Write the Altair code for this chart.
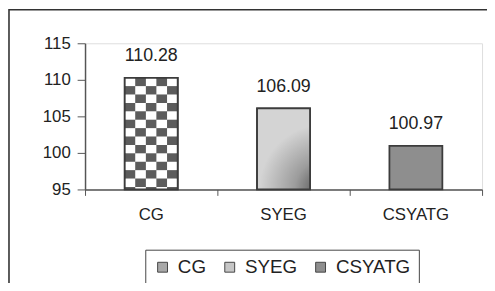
import altair as alt
import pandas as pd

categories = ["CG", "SYEG", "CSYATG"]
values = [110.28, 106.09, 100.97]
legend_colors = ["#a8a8a8", "#c6c6c6", "#8e8e8e"]
y_min, y_max = 95, 115
y_ticks = [95, 100, 105, 110, 115]

# bar table
bars = pd.DataFrame({
    "cat": categories,
    "val": values,
    "x": [i + 0.3 for i in range(len(categories))],
    "x2": [i + 0.7 for i in range(len(categories))],
    "xc": [i + 0.5 for i in range(len(categories))],
    "base": [y_min] * len(categories),
})

# checkerboard cells for the CG bar (derived from its bar extent)
n_cols, row_h = 5, 1.15
cg = bars.iloc[0]
cells = []
r = 0
top = cg["val"]
while top > y_min:
    bot = max(y_min, top - row_h)
    for c in range(n_cols):
        w = (cg["x2"] - cg["x"]) / n_cols
        cells.append({"x": cg["x"] + c * w, "x2": cg["x"] + (c + 1) * w,
                      "y": bot, "y2": top,
                      "col": "#5c5c5c" if (r + c) % 2 else "#ffffff"})
    top = bot
    r += 1
cells = pd.DataFrame(cells)

xscale = alt.Scale(domain=[0, 3], nice=False, zero=False)
yscale = alt.Scale(domain=[y_min, y_max], nice=False, zero=False)

xaxis = alt.Axis(values=[0, 1, 2, 3], labels=False, title=None, grid=False,
                 tickSize=6, domainColor="#555", tickColor="#555", domainWidth=1.5)
yaxis = alt.Axis(values=y_ticks, title=None, grid=False, labelOverlap=False,
                 tickSize=8, labelPadding=7, labelFontSize=17, labelColor="#222",
                 domainColor="#555", tickColor="#555", domainWidth=1.5)


def X(f):
    return alt.X(f, scale=xscale, axis=xaxis, title=None)


def Y(f):
    return alt.Y(f, scale=yscale, axis=yaxis, title=None)


base = alt.Chart(bars)

bar_layer = base.mark_rect(stroke="#3c3c3c", strokeWidth=1.8).encode(
    x=X("x:Q"), x2="x2:Q", y=Y("base:Q"), y2="val:Q",
    color=alt.Color("cat:N", sort=categories,
                    scale=alt.Scale(domain=categories, range=legend_colors),
                    legend=alt.Legend(title=None, orient="none", direction="horizontal",
                                      legendX=61, legendY=209,
                                      strokeColor="#444", padding=8,
                                      symbolType="square", symbolSize=100,
                                      symbolStrokeColor="#444", symbolStrokeWidth=1,
                                      symbolOpacity=1,
                                      labelFontSize=19, labelColor="#222",
                                      labelOffset=6, columnPadding=14)),
)

grad = {
    "gradient": "radial",
    "x1": 1, "y1": 1, "r1": 0,
    "x2": 1, "y2": 1, "r2": 0.8,
    "stops": [
        {"offset": 0, "color": "#4a4a4a"},
        {"offset": 0.45, "color": "#9c9c9c"},
        {"offset": 1, "color": "#d4d4d4"},
    ],
}
syeg_layer = base.transform_filter(alt.datum.cat == "SYEG").mark_rect(
    fill=grad, stroke="#3c3c3c", strokeWidth=1.8
).encode(x=X("x:Q"), x2="x2:Q", y=Y("base:Q"), y2="val:Q")

cell_layer = alt.Chart(cells).mark_rect(strokeWidth=0).encode(
    x=X("x:Q"), x2="x2:Q", y=Y("y:Q"), y2="y2:Q",
    fill=alt.Fill("col:N", scale=None),
)

outline_layer = base.transform_filter(alt.datum.cat == "CG").mark_rect(
    fillOpacity=0, stroke="#3c3c3c", strokeWidth=1.8
).encode(x=X("x:Q"), x2="x2:Q", y=Y("base:Q"), y2="val:Q")

value_labels = base.mark_text(dy=-22, fontSize=18, color="#222", baseline="middle").encode(
    x=X("xc:Q"), y=Y("val:Q"), text=alt.Text("val:Q", format=".2f"),
)

cat_labels = base.mark_text(fontSize=17, color="#222", baseline="middle").encode(
    x=X("xc:Q"), y=alt.value(174), text="cat:N",
)

frame = alt.Chart(pd.DataFrame({"k": [0]})).mark_rect(
    fillOpacity=0, stroke="#333", strokeWidth=1.6
).encode(x=alt.value(-77), x2=alt.value(480), y=alt.value(-34), y2=alt.value(300))

chart = alt.layer(
    frame, bar_layer, syeg_layer, cell_layer, outline_layer, value_labels, cat_labels
).properties(
    width=402, height=148,
    autosize=alt.AutoSizeParams(type="none"),
    padding={"left": 78, "top": 34, "right": 5, "bottom": 93},
).configure_view(stroke=None).configure(font="Liberation Sans")

chart.save("out.html", embed_options={"renderer": "svg", "actions": False})
